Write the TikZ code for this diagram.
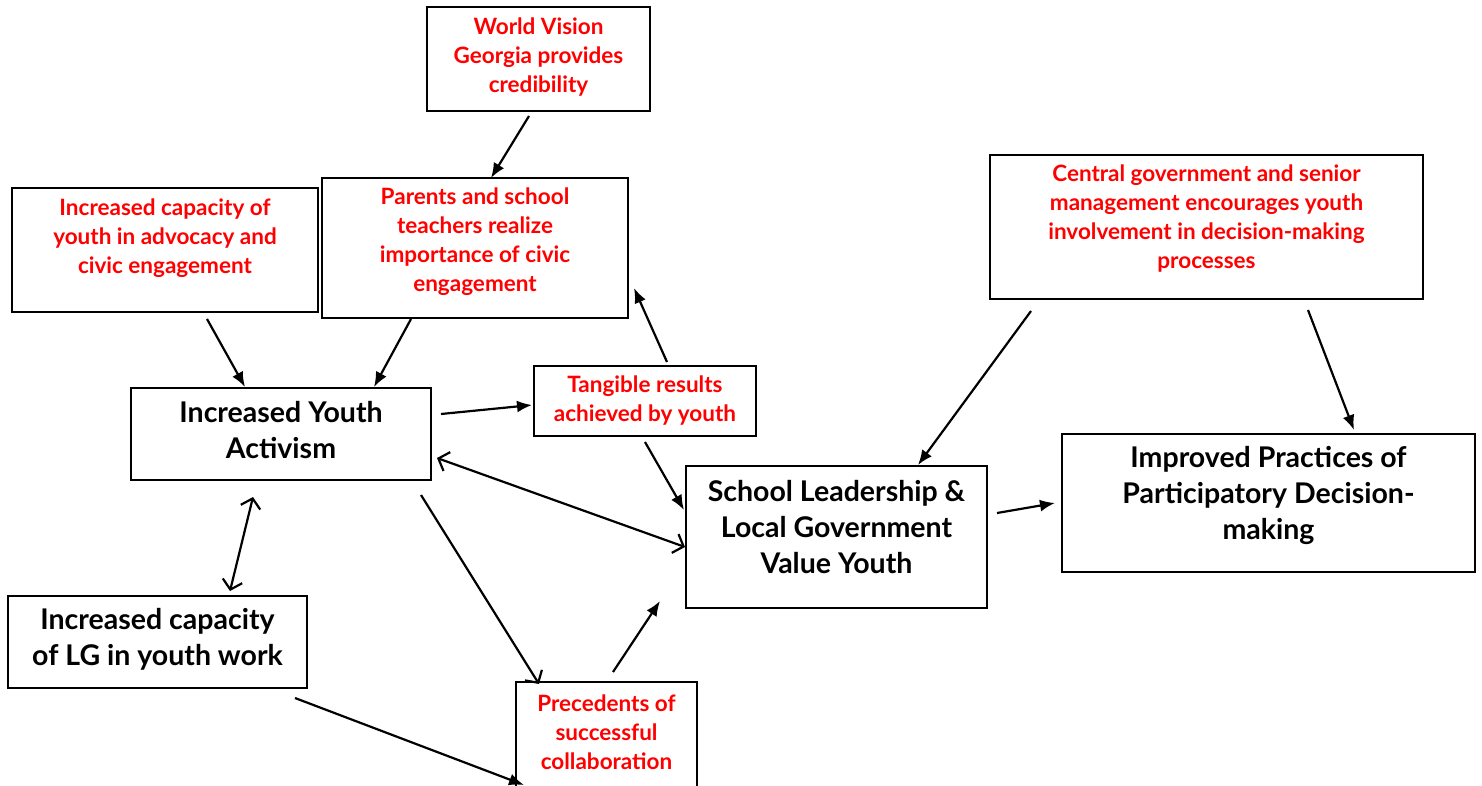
\documentclass[tikz,border=0pt]{standalone}
\usepackage{fontspec}
\setmainfont{Lato}
\usetikzlibrary{arrows.meta}
\definecolor{redtext}{RGB}{255,0,0}
\tikzset{
  box/.style={draw=black, line width=2pt, fill=none, inner sep=0pt},
  redtxt/.style={text=redtext, font=\fontsize{22.5}{29}\selectfont\bfseries, align=center, inner sep=0pt},
  blacktxt/.style={text=black, font=\fontsize{28.5}{36}\selectfont\bfseries, align=center, inner sep=0pt},
  conn/.style={line width=2.2pt, draw=black},
  solidtip/.style={-{Latex[length=15pt,width=12pt]}},
  opentip/.style={{Straight Barb[length=9pt,width=20pt,line width=2.2pt]}-{Straight Barb[length=9pt,width=20pt,line width=2.2pt]}},
  opentipend/.style={-{Straight Barb[length=9pt,width=20pt,line width=2.2pt]}}
}
\begin{document}
\begin{tikzpicture}[x=1pt,y=-1pt]
\useasboundingbox (0,0) rectangle (1482,785);
\fill[white] (0,0) rectangle (1482,785);
% boxes
\node[box, minimum width=223pt, minimum height=104pt] (wv) at (538.5,59) {};
\node[box, minimum width=306pt, minimum height=140pt] (par) at (475,248) {};
\node[box, minimum width=306pt, minimum height=124pt] (icy) at (165,250) {};
\node[box, minimum width=300pt, minimum height=92pt] (iya) at (281,434) {};
\node[box, minimum width=222pt, minimum height=70pt] (tan) at (645,401) {};
\node[box, minimum width=301pt, minimum height=142pt] (sch) at (836.5,537) {};
\node[box, minimum width=413pt, minimum height=138pt] (imp) at (1268.5,503) {};
\node[box, minimum width=433pt, minimum height=144pt] (cen) at (1206.5,227) {};
\node[box, minimum width=299pt, minimum height=92pt] (lg) at (157.5,642) {};
\node[box, minimum width=181pt, minimum height=130pt] (pre) at (606.5,747) {};
% texts
\node[redtxt] (wvt) at (538.5,57) {World Vision\\Georgia provides\\credibility};
\node[redtxt] (part) at (475,242) {Parents and school\\teachers realize\\importance of civic\\engagement};
\node[redtxt] (icyt) at (165,238) {Increased capacity of\\youth in advocacy and\\civic engagement};
\node[blacktxt] (iyat) at (281,430) {Increased Youth\\Activism};
\node[redtxt] (tant) at (645,401) {Tangible results\\achieved by youth};
\node[blacktxt] (scht) at (836.5,527) {School Leadership \&\\Local Government\\Value Youth};
\node[blacktxt] (impt) at (1268.5,495) {Improved Practices of\\Participatory Decision-\\making};
\node[redtxt] (cent) at (1206.5,219) {Central government and senior\\management encourages youth\\involvement in decision-making\\processes};
\node[blacktxt] (lgt) at (157.5,639) {Increased capacity\\of LG in youth work};
\node[redtxt] (pret) at (606.5,732) {Precedents of\\successful\\collaboration};
% connector end points
\coordinate (a1s) at (529,116); \coordinate (a1e) at (491,178);
\coordinate (a2s) at (207,319); \coordinate (a2e) at (245,387);
\coordinate (a3s) at (411,319); \coordinate (a3e) at (374,387);
\coordinate (a4s) at (441,414); \coordinate (a4e) at (532,405);
\coordinate (a5s) at (667,362); \coordinate (a5e) at (634,288);
\coordinate (a6s) at (645,442); \coordinate (a6e) at (684,510);
\coordinate (a7s) at (437,458); \coordinate (a7e) at (685,547);
\coordinate (a8s) at (253,497); \coordinate (a8e) at (230,591);
\coordinate (a9s) at (421,495); \coordinate (a9e) at (539,684);
\coordinate (a10s) at (295,698); \coordinate (a10e) at (524,785);
\coordinate (a11s) at (613,672); \coordinate (a11e) at (660,601);
\coordinate (a12s) at (1031,311); \coordinate (a12e) at (918,465);
\coordinate (a13s) at (1308,310); \coordinate (a13e) at (1354,430);
\coordinate (a14s) at (997,513); \coordinate (a14e) at (1055,503);
% connectors
\draw[conn, solidtip] (a1s) -- (a1e);
\draw[conn, solidtip] (a2s) -- (a2e);
\draw[conn, solidtip] (a3s) -- (a3e);
\draw[conn, solidtip] (a4s) -- (a4e);
\draw[conn, solidtip] (a5s) -- (a5e);
\draw[conn, solidtip] (a6s) -- (a6e);
\draw[conn, opentip] (a7s) -- (a7e);
\draw[conn, opentip] (a8s) -- (a8e);
\draw[conn, opentipend] (a9s) -- (a9e);
\draw[conn, solidtip] (a10s) -- (a10e);
\draw[conn, solidtip] (a11s) -- (a11e);
\draw[conn, solidtip] (a12s) -- (a12e);
\draw[conn, solidtip] (a13s) -- (a13e);
\draw[conn, solidtip] (a14s) -- (a14e);
\end{tikzpicture}
\end{document}
